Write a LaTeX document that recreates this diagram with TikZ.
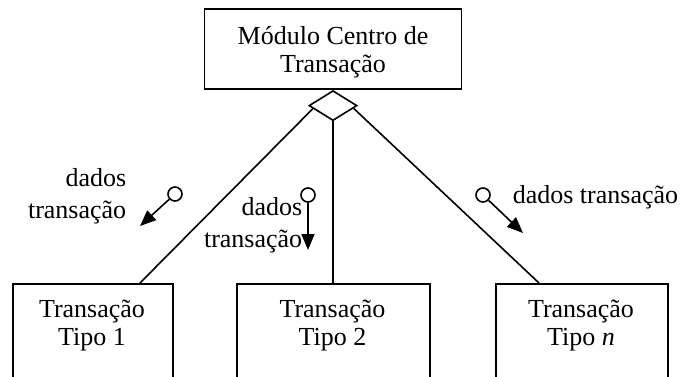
\documentclass[tikz,border=0pt]{standalone}
\usepackage{fontspec}
\setmainfont{Liberation Serif}
\usetikzlibrary{shapes.geometric,arrows.meta,calc}
\begin{document}
\begin{tikzpicture}[x=0.5pt,y=-0.5pt,
  line width=0.8pt,
  every node/.style={font=\fontsize{13}{14}\selectfont},
  box/.style={draw, rectangle, inner sep=0pt},
  txt/.style={inner sep=0pt, align=center},
  lbl/.style={inner sep=0pt, font=\fontsize{13}{16}\selectfont},
  flag/.style={draw, circle, minimum size=7pt, inner sep=0pt},
  flow/.style={-{Triangle[length=8pt,width=6.5pt]}}]
\useasboundingbox (0,0) rectangle (681,376);
\clip (0,0) rectangle (681,376);
% top module
\node[box, minimum width=128.5pt, minimum height=40pt] (top) at (333,49) {};
\node[txt] (tt) at (333,52) {Módulo Centro de\\Transação};
\node[draw, diamond, minimum width=24pt, minimum height=15pt, inner sep=0pt, anchor=north] (dia) at (top.south) {};
% bottom modules (cut by the picture's lower edge)
\node[box, minimum width=80pt, minimum height=60pt, anchor=north west] (b1) at (12,283) {};
\node[box, minimum width=96.5pt, minimum height=60pt, anchor=north west] (b2) at (236,283) {};
\node[box, minimum width=86pt, minimum height=60pt, anchor=north west] (b3) at (495,283) {};
\node[txt] (t1) at (92,326) {Transação\\Tipo 1};
\node[txt] (t2) at (332.5,326) {Transação\\Tipo 2};
\node[txt] (t3) at (581,326) {Transação\\Tipo \textit{n}};
% connections
\draw ($(dia.west)!0.19!(dia.south)$) -- ([xshift=64pt]b1.north west);
\draw (dia.south) -- (b2.north -| dia.south);
\draw ($(dia.east)!0.17!(dia.south)$) -- ([xshift=22pt]b3.north west);
% data couples
\node[flag] (c1) at (175,194) {};
\coordinate (a1) at (140,226);
\draw[flow] (c1) -- (a1);
\node[flag] (c2) at (308,195) {};
\coordinate (a2) at (308,250);
\draw[flow] (c2) -- (a2);
\node[flag] (c3) at (483,195) {};
\coordinate (a3) at (523,233);
\draw[flow] (c3) -- (a3);
\node[lbl, align=right, anchor=east] (l1) at (127,196) {dados\\transação};
\node[lbl, align=right, anchor=east] (l2) at (303,225) {dados\\transação};
\node[lbl, anchor=base west] (l3) at (512,203) {dados transação};
\end{tikzpicture}
\end{document}
